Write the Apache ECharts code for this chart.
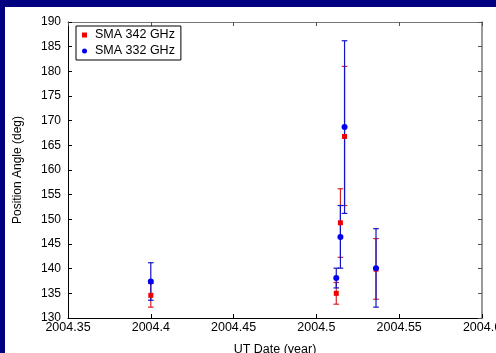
<!DOCTYPE html>
<html>
<head>
    <meta charset="UTF-8">
    <title>Position Angle vs UT Date</title>
    <script src="https://cdn.jsdelivr.net/npm/echarts@6/dist/echarts.min.js"></script>
    <style type="text/css">
    * { margin: 0; padding: 0; }
    body { background-color: #ffffff; }
    #chart { width: 496px; height: 353px; }
    </style>
</head>
<body>
<div id="chart"></div>
<script>
    // epochs (UT date, year) - same for both bands
    var dates = [2004.400, 2004.512, 2004.5145, 2004.517, 2004.536];

    // SMA 342 GHz: value, lower, upper
    var pa342 = [134.6, 135.0, 149.3, 166.8, 139.9];
    var lo342 = [132.2, 132.8, 142.3, 152.8, 133.8];
    var hi342 = [137.0, 137.2, 156.2, 181.0, 146.1];

    // SMA 332 GHz: value, lower, upper
    var pa332 = [137.4, 138.1, 146.4, 168.7, 140.1];
    var lo332 = [133.6, 136.1, 140.1, 151.2, 132.2];
    var hi332 = [141.2, 140.1, 152.8, 186.2, 148.1];

    var font = '"Liberation Sans", Arial, Helvetica, sans-serif';

    function pts(v) {
        return dates.map(function (d, i) { return [d, v[i]]; });
    }
    function bars(lo, hi) {
        return dates.map(function (d, i) { return [d, lo[i], hi[i]]; });
    }

    function errorBar(color) {
        return function (params, api) {
            var x = api.value(0);
            var top = api.coord([x, api.value(2)]);
            var bot = api.coord([x, api.value(1)]);
            var hw = 2.8;
            var st = { stroke: color, lineWidth: 1.2 };
            return {
                type: 'group',
                children: [
                    { type: 'line', shape: { x1: top[0], y1: top[1], x2: bot[0], y2: bot[1] }, style: st },
                    { type: 'line', shape: { x1: top[0] - hw, y1: top[1], x2: top[0] + hw, y2: top[1] }, style: st },
                    { type: 'line', shape: { x1: bot[0] - hw, y1: bot[1], x2: bot[0] + hw, y2: bot[1] }, style: st }
                ]
            };
        };
    }

    var chart = echarts.init(document.getElementById('chart'), null, { renderer: 'canvas' });

    var option = {
        animation: false,
        backgroundColor: '#ffffff',
        textStyle: { fontFamily: font },
        graphic: [
            { type: 'rect', left: 0, top: 0, shape: { width: 496, height: 7 }, style: { fill: '#000080' }, z: 100 },
            { type: 'rect', left: 0, top: 0, shape: { width: 5, height: 353 }, style: { fill: '#000080' }, z: 100 }
        ],
        grid: { left: 68, right: 14, top: 22, bottom: 35, outerBoundsMode: 'none', containLabel: false },
        legend: {
            orient: 'vertical',
            left: 76,
            top: 26,
            padding: [2, 6, 2, 6],
            borderColor: '#000',
            borderWidth: 1,
            borderRadius: 0,
            itemWidth: 5,
            itemHeight: 5,
            itemGap: 2,
            textStyle: { fontFamily: font, fontSize: 12.5, color: '#000', lineHeight: 14, padding: [0, 0, 0, 3] },
            data: [
                { name: 'SMA 342 GHz', icon: 'rect' },
                { name: 'SMA 332 GHz', icon: 'circle' }
            ]
        },
        xAxis: [{
            type: 'value',
            min: 2004.35, max: 2004.6, interval: 0.05,
            name: 'UT Date (year)',
            nameLocation: 'middle',
            nameGap: 25,
            nameTextStyle: { fontFamily: font, fontSize: 12.5, color: '#000' },
            axisLine: { show: true, onZero: false, lineStyle: { color: '#000', width: 1 } },
            axisTick: { inside: true, length: 4, lineStyle: { color: '#000' } },
            axisLabel: {
                fontFamily: font, fontSize: 12.5, color: '#000', margin: 3,
                formatter: function (v) { return String(parseFloat(v.toFixed(2))); }
            },
            splitLine: { show: false }
        }, {
            type: 'value', position: 'top',
            min: 2004.35, max: 2004.6, interval: 0.05,
            axisLine: { show: true, onZero: false, lineStyle: { color: '#777', width: 1 } },
            axisTick: { inside: true, length: 4, lineStyle: { color: '#555' } },
            axisLabel: { show: false },
            splitLine: { show: false }
        }],
        yAxis: [{
            type: 'value',
            min: 130, max: 190, interval: 5,
            name: 'Position Angle (deg)',
            nameLocation: 'middle',
            nameGap: 44,
            nameTextStyle: { fontFamily: font, fontSize: 12, color: '#000' },
            axisLine: { show: true, onZero: false, lineStyle: { color: '#000', width: 1 } },
            axisTick: { inside: true, length: 4, lineStyle: { color: '#000' } },
            axisLabel: { fontFamily: font, fontSize: 12, color: '#000', margin: 7 },
            splitLine: { show: false }
        }, {
            type: 'value', position: 'right',
            min: 130, max: 190, interval: 5,
            axisLine: { show: true, onZero: false, lineStyle: { color: '#777', width: 1.5 } },
            axisTick: { inside: true, length: 4, lineStyle: { color: '#555' } },
            axisLabel: { show: false },
            splitLine: { show: false }
        }],
        series: [
            {
                name: 'err342', type: 'custom', renderItem: errorBar('#d42424'),
                encode: { x: 0, y: [1, 2] }, data: bars(lo342, hi342), z: 2
            },
            {
                name: 'err332', type: 'custom', renderItem: errorBar('#1414c4'),
                encode: { x: 0, y: [1, 2] }, data: bars(lo332, hi332), z: 3
            },
            {
                name: 'SMA 342 GHz', type: 'scatter', symbol: 'rect', symbolSize: 5,
                itemStyle: { color: '#ee0000', opacity: 1 }, data: pts(pa342), z: 4
            },
            {
                name: 'SMA 332 GHz', type: 'scatter', symbol: 'circle', symbolSize: 6,
                itemStyle: { color: '#0000ee', opacity: 1 }, data: pts(pa332), z: 5
            }
        ]
    };

    chart.setOption(option);
</script>
</body>
</html>
